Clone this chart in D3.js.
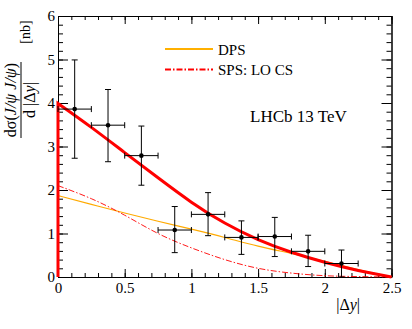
<!doctype html>
<html>
<head>
<meta charset="utf-8">
<script src="https://cdnjs.cloudflare.com/ajax/libs/d3/7.8.5/d3.min.js"></script>
<style>
  body { margin: 0; background: #fff; }
  svg text { font-family: "Liberation Serif", "Times New Roman", Times, "DejaVu Serif", serif !important; fill: #000; }
</style>
</head>
<body>
<svg id="chart" width="412" height="329"></svg>
<script>
// measured points (bins of 0.25 in |dy|)
var binCenter = [0.125, 0.375, 0.625, 0.875, 1.125, 1.375, 1.625, 1.875, 2.125];
var binHalf = 0.125;
var sigma   = [3.86, 3.49, 2.79, 1.08, 1.44, 0.91, 0.93, 0.59, 0.31];
var sigmaHi = [4.99, 4.31, 3.47, 1.62, 1.94, 1.29, 1.37, 0.96, 0.62];
var sigmaLo = [2.73, 2.65, 2.11, 0.56, 0.95, 0.52, 0.47, 0.24, 0.00];

// model curves
var gridX  = [0, 0.25, 0.5, 0.75, 1.0, 1.25, 1.5, 1.75, 2.0, 2.25, 2.5];
var total  = [3.99, 3.44, 2.86, 2.28, 1.72, 1.24, 0.86, 0.57, 0.34, 0.15, 0.0];
var dps    = [1.87, 1.67, 1.47, 1.28, 1.10, 0.91, 0.71, 0.54, 0.36, 0.17, 0.0];
var sps    = [2.10, 1.80, 1.42, 1.00, 0.67, 0.40, 0.20, 0.09, 0.03, 0.01, 0.0];

var svg = d3.select("#chart");
var x = d3.scaleLinear().domain([0, 2.5]).range([58, 391.5]);
var y = d3.scaleLinear().domain([0, 6]).range([277, 16]);

var xMajor = x.ticks(5), xMinor = x.ticks(25);
var yMajor = y.ticks(6), yMinor = y.ticks(30);
var fmt = function(d) { return String(+d.toFixed(2)); };

function axisG(axis, tx, ty) {
  var g = svg.append("g").attr("transform", "translate(" + tx + "," + ty + ")").call(axis);
  g.attr("font-family", null);
  g.selectAll("line, path").attr("stroke", "#000").attr("stroke-width", 1);
  g.selectAll("text").style("font-size", "15px");
  return g;
}

// bottom
axisG(d3.axisBottom(x).tickValues(xMinor).tickSize(-4).tickSizeOuter(0).tickFormat(""), 0, y(0));
axisG(d3.axisBottom(x).tickValues(xMajor).tickSize(-8).tickSizeOuter(0).tickPadding(5).tickFormat(fmt), 0, y(0));
// top
axisG(d3.axisTop(x).tickValues(xMinor).tickSize(-4).tickSizeOuter(0).tickFormat(""), 0, y(6));
axisG(d3.axisTop(x).tickValues(xMajor).tickSize(-8).tickSizeOuter(0).tickFormat(""), 0, y(6));
// left
axisG(d3.axisLeft(y).tickValues(yMinor).tickSize(-5).tickSizeOuter(0).tickFormat(""), x(0), 0);
axisG(d3.axisLeft(y).tickValues(yMajor).tickSize(-10).tickSizeOuter(0).tickPadding(3).tickFormat(fmt), x(0), 0);
// right
axisG(d3.axisRight(y).tickValues(yMinor).tickSize(-5).tickSizeOuter(0).tickFormat(""), x(2.5), 0);
axisG(d3.axisRight(y).tickValues(yMajor).tickSize(-10).tickSizeOuter(0).tickFormat(""), x(2.5), 0);

// curves
var line = d3.line().x(function(d) { return x(d[0]); }).y(function(d) { return y(d[1]); })
  .curve(d3.curveNatural);

svg.append("path")
  .attr("d", line(d3.zip(gridX, dps)))
  .attr("fill", "none").attr("stroke", "#ffaa00").attr("stroke-width", 1.1);

svg.append("path")
  .attr("d", line(d3.zip(gridX, sps)))
  .attr("fill", "none").attr("stroke", "#ff0000").attr("stroke-width", 0.9)
  .attr("stroke-dasharray", "6,2,1.5,2");

// total curve, drawn down to zero at the left edge like the original
svg.append("path")
  .attr("d", "M" + x(0) + "," + y(0) + "L" + line(d3.zip(gridX, total)).slice(1))
  .attr("fill", "none").attr("stroke", "#ff0000").attr("stroke-width", 3);

// data points with error bars
var pts = svg.append("g").attr("stroke", "#000").attr("stroke-width", 1);
binCenter.forEach(function(c, i) {
  var px = x(c), py = y(sigma[i]);
  var x0 = x(c - binHalf), x1 = x(c + binHalf);
  pts.append("line").attr("x1", x0).attr("x2", x1).attr("y1", py).attr("y2", py);
  pts.append("line").attr("x1", x0).attr("x2", x0).attr("y1", py - 3).attr("y2", py + 3);
  pts.append("line").attr("x1", x1).attr("x2", x1).attr("y1", py - 3).attr("y2", py + 3);
  pts.append("line").attr("x1", px).attr("x2", px).attr("y1", y(sigmaLo[i])).attr("y2", y(sigmaHi[i]));
  pts.append("line").attr("x1", px - 3).attr("x2", px + 3).attr("y1", y(sigmaHi[i])).attr("y2", y(sigmaHi[i]));
  pts.append("line").attr("x1", px - 3).attr("x2", px + 3).attr("y1", y(sigmaLo[i])).attr("y2", y(sigmaLo[i]));
  pts.append("circle").attr("cx", px).attr("cy", py).attr("r", 2.3).attr("fill", "#000").attr("stroke", "none");
});

// legend
var leg = svg.append("g");
leg.append("line").attr("x1", 165).attr("x2", 213).attr("y1", 49).attr("y2", 49)
  .attr("stroke", "#ffb000").attr("stroke-width", 2);
leg.append("text").attr("x", 218).attr("y", 54.5).style("font-size", "15px").text("DPS");
leg.append("line").attr("x1", 165).attr("x2", 213).attr("y1", 69.5).attr("y2", 69.5)
  .attr("stroke", "#ff0000").attr("stroke-width", 2).attr("stroke-dasharray", "6,2,1.5,2");
leg.append("text").attr("x", 218).attr("y", 75).style("font-size", "15px").text("SPS: LO CS");

svg.append("text").attr("x", 250).attr("y", 122).style("font-size", "17px").text("LHCb 13 TeV");

// x title
var xt = svg.append("text").attr("x", 360).attr("y", 310).attr("text-anchor", "end").style("font-size", "16px");
xt.append("tspan").text("|Δ");
xt.append("tspan").attr("font-style", "italic").text("y");
xt.append("tspan").text("|");

// y title as a rotated fraction
var yt = svg.append("g").attr("transform", "translate(21,100) rotate(-90)");
var num = yt.append("text").attr("x", 0).attr("y", -5).attr("text-anchor", "middle").style("font-size", "16px");
num.append("tspan").text("dσ(");
num.append("tspan").attr("font-style", "italic").text("J/ψ J/ψ");
num.append("tspan").text(")");
yt.append("line").attr("x1", -38).attr("x2", 38).attr("y1", 0).attr("y2", 0)
  .attr("stroke", "#000").attr("stroke-width", 1);
var den = yt.append("text").attr("x", 0).attr("y", 14).attr("text-anchor", "middle").style("font-size", "16px");
den.append("tspan").text("d |Δ");
den.append("tspan").attr("font-style", "italic").text("y");
den.append("tspan").text("|");

svg.append("text").attr("transform", "translate(30,32) rotate(-90)")
  .attr("text-anchor", "middle").style("font-size", "14px").text("[nb]");
</script>
</body>
</html>
